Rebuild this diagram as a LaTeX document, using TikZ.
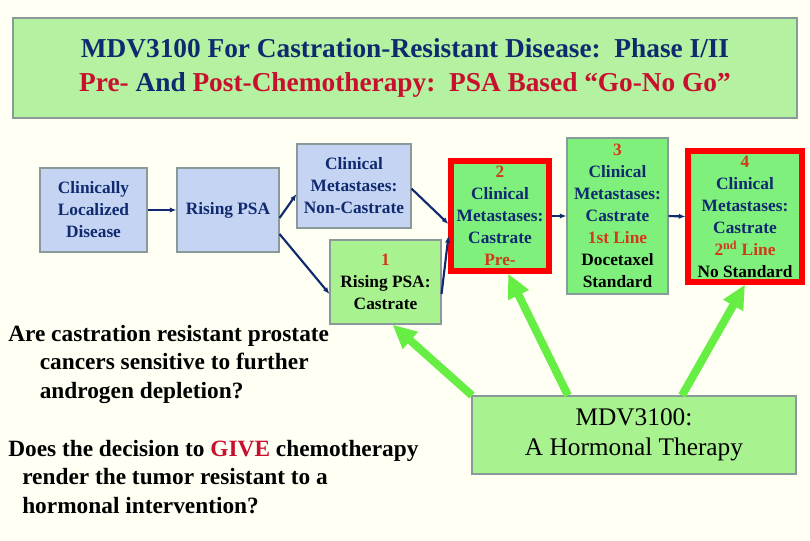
\documentclass[tikz,border=0pt]{standalone}
\usepackage{fontspec}
\setmainfont{Liberation Serif}[BoldFont={Liberation Serif Bold}]
\usetikzlibrary{arrows.meta}
\definecolor{bg}{HTML}{FFFFF4}
\definecolor{tbg}{HTML}{B4F2A2}
\definecolor{bluefill}{HTML}{C6D4F4}
\definecolor{greenA}{HTML}{80F07C}
\definecolor{greenB}{HTML}{A8F290}
\definecolor{navy}{HTML}{0F2A6E}
\definecolor{dred}{HTML}{C8102E}
\definecolor{ored}{HTML}{D03A1A}
\definecolor{garrow}{HTML}{66EE44}
\definecolor{bordr}{HTML}{8A9A9A}
\begin{document}
\begin{tikzpicture}[x=0.75pt,y=-0.75pt,
  box/.style={draw=bordr,line width=0.8pt,align=center,inner sep=0pt,font=\bfseries\fontsize{13}{16.5}\selectfont,text=navy},
  bbox/.style={box,fill=bluefill},
  gbox/.style={box,fill=greenA},
  rbox/.style={box,fill=greenA,draw=red,line width=3.8pt},
  flow/.style={-{Latex[length=5pt,width=4pt]},draw=navy,line width=1.6pt},
  big/.style={-{Triangle[length=18pt,width=16pt]},draw=garrow,line width=6pt}]
\useasboundingbox[fill=bg] (0,0) rectangle (810,540);
\node[draw=bordr,fill=tbg,line width=1.5pt,minimum width=784*0.75pt,minimum height=100*0.75pt,align=center,font=\bfseries\fontsize{20.5}{26}\selectfont] (title) at (405,68)
 {\textcolor{navy}{MDV3100 For Castration-Resistant Disease:\ \ Phase I/II}\\
  \textcolor{dred}{Pre-} \textcolor{navy}{And} \textcolor{dred}{Post-Chemotherapy:\ \ PSA Based “Go-No Go”}};
\node[bbox,minimum width=107*0.75pt,minimum height=84*0.75pt] (cl) at (93.5,210) {Clinically\\Localized\\Disease};
\node[bbox,minimum width=102*0.75pt,minimum height=84*0.75pt] (rp) at (228,210) {Rising PSA};
\node[bbox,minimum width=114*0.75pt,minimum height=84*0.75pt] (cm) at (354,186) {Clinical\\Metastases:\\Non-Castrate};
\node[box,fill=greenB,minimum width=111*0.75pt,minimum height=84*0.75pt,text=black] (n1) at (385.5,282) {\textcolor{ored}{1}\\Rising PSA:\\Castrate};
\node[rbox,minimum width=98*0.75pt,minimum height=110*0.75pt] (n2) at (500,216) {\textcolor{ored}{2}\\Clinical\\Metastases:\\Castrate\\\textcolor{ored}{Pre-}};
\node[gbox,minimum width=101*0.75pt,minimum height=156*0.75pt] (n3) at (617.5,216) {\textcolor{ored}{3}\\Clinical\\Metastases:\\Castrate\\\textcolor{ored}{1st Line}\\\textcolor{black}{Docetaxel}\\\textcolor{black}{Standard}};
\node[rbox,minimum width=114*0.75pt,minimum height=131*0.75pt] (n4) at (745,216.5) {\textcolor{ored}{4}\\Clinical\\Metastases:\\Castrate\\\textcolor{ored}{2\textsuperscript{nd} Line}\\\textcolor{black}{No Standard}};
\node[draw=bordr,fill=greenB,line width=0.8pt,minimum width=324*0.75pt,minimum height=78*0.75pt,align=center,font=\fontsize{19}{22.5}\selectfont] (mdv) at (634,435) {MDV3100:\\A Hormonal Therapy};
\node[anchor=north west,align=left,inner sep=0pt,font=\bfseries\fontsize{17.5}{21.3}\selectfont] (q1) at (8,325) {Are castration resistant prostate\\\hspace{1.35em}cancers sensitive to further\\\hspace{1.35em}androgen depletion?};
\node[anchor=north west,align=left,inner sep=0pt,font=\bfseries\fontsize{17.5}{21.3}\selectfont] (q2) at (8,440) {Does the decision to \textcolor{dred}{GIVE} chemotherapy\\\hspace{0.6em}render the tumor resistant to a\\\hspace{0.6em}hormonal intervention?};
\draw[flow] (cl.east) -- (rp.west);
\draw[flow] ([yshift=-8*0.75pt]rp.east) -- ([yshift=-8*0.75pt]cm.west);
\draw[flow] ([yshift=-24*0.75pt]rp.east) -- ([yshift=-12*0.75pt]n1.west);
\draw[flow] ([yshift=-2]cm.east) -- ([yshift=-6]n2.west);
\draw[flow] ([yshift=-12*0.75pt]n1.east) -- ([yshift=-20*0.75pt]n2.west);
\draw[flow] (n2.east) -- (n3.west);
\draw[flow] (n3.east) -- (n4.west);
\draw[big] ([xshift=-162*0.75pt]mdv.north) -- ([xshift=7*0.75pt]n1.south);
\draw[big] ([xshift=-66*0.75pt]mdv.north) -- ([xshift=8*0.75pt]n2.south);
\draw[big] ([xshift=48*0.75pt]mdv.north) -- ([xshift=0]n4.south);
\end{tikzpicture}
\end{document}
